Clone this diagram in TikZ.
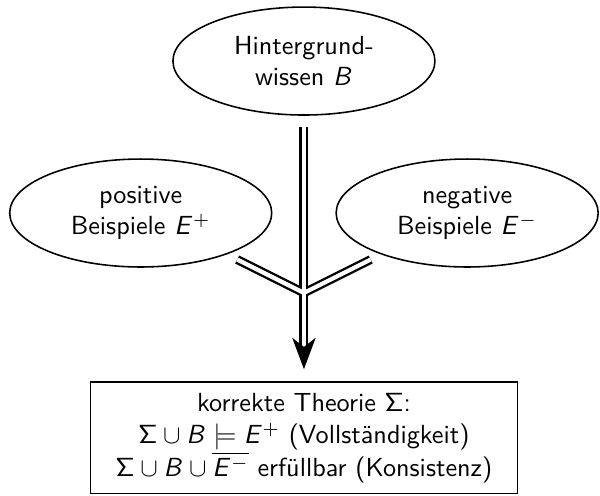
\documentclass[tikz,border=0pt]{standalone}
\usetikzlibrary{shapes.geometric,calc}
\renewcommand{\familydefault}{\sfdefault}
\DeclareMathAlphabet{\mathsfit}{OT1}{cmss}{m}{sl}
\newcommand{\mB}{\mathsfit{B}}
\newcommand{\mE}{\mathsfit{E}}
\newcommand{\mSig}{\mathsf{\Sigma}}
\begin{document}
\begin{tikzpicture}[x=1pt,y=1pt,
  elli/.style={ellipse, draw, line width=0.6pt, minimum width=100pt, minimum height=41.2pt, inner sep=0pt, align=center},
  theorybox/.style={rectangle, draw, line width=0.6pt, minimum width=163pt, minimum height=42.6pt, align=center},
  dblouter/.style={line width=3.4pt, black},
  dblinner/.style={line width=1.6pt, white}]
\useasboundingbox (0,0) rectangle (229,-189);
\node[elli] (B) at (116,-23.3) {Hintergrund-\\wissen $\mB$};
\node[elli] (Ep) at (53.7,-81.3) {positive\\Beispiele $\mE^+$};
\node[elli] (En) at (178.3,-81.3) {negative\\Beispiele $\mE^-$};
\node[theorybox] (T) at (116,-167.1) {korrekte Theorie $\mSig$:\\[0.4pt]
  $\mSig\cup\mB\models\mE^+$ (Vollständigkeit)\\[0.4pt]
  $\mSig\cup\mB\cup\overline{\mE^-}$ erfüllbar (Konsistenz)};
\coordinate (Bt) at ($(B.south)+(0,-4.2)$);
\coordinate (M) at (116,-111.8);
\coordinate (L) at ($(M)+(-25.5,12.75)$);
\coordinate (R) at ($(M)+(25.5,12.75)$);
\coordinate (tip) at ($(T.north)+(0,4.6)$);
\coordinate (A) at ($(tip)+(0,9)$);
\foreach \st in {dblouter,dblinner}{
  \draw[\st] (Bt) -- (M);
  \draw[\st] (L) -- (M);
  \draw[\st] (R) -- (M);
  \draw[\st] (M) -- (A);
}
\fill (tip) -- ++(-4.5,12) -- ++(4.5,-3.5) -- ++(4.5,3.5) -- cycle;
\end{tikzpicture}
\end{document}
